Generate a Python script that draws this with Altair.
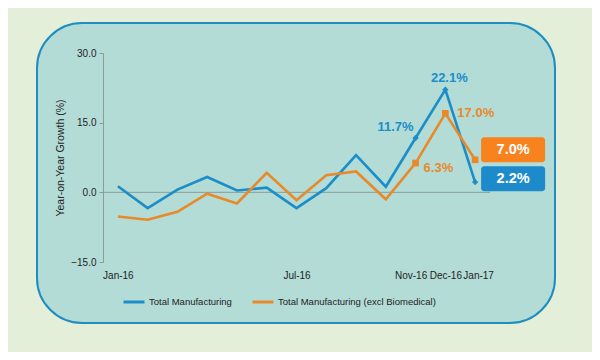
import altair as alt
import pandas as pd

months = ["Jan-16", "Feb-16", "Mar-16", "Apr-16", "May-16", "Jun-16", "Jul-16",
          "Aug-16", "Sep-16", "Oct-16", "Nov-16", "Dec-16", "Jan-17"]
total_mfg = [1.3, -3.4, 0.6, 3.3, 0.4, 1.0, -3.4, 0.9, 8.0, 1.2, 11.7, 22.1, 2.2]
excl_bio = [-5.2, -5.9, -4.2, -0.3, -2.4, 4.2, -1.7, 3.7, 4.5, -1.5, 6.3, 17.0, 7.0]
series_names = ["Total Manufacturing", "Total Manufacturing (excl Biomedical)"]
shown_labels = ["Jan-16", "Jul-16", "Nov-16", "Dec-16", "Jan-17"]
marked_months = ["Nov-16", "Dec-16", "Jan-17"]

BLUE = "#1b8ec8"
ORANGE = "#e8892b"
BOX_ORANGE = "#f8821e"
BOX_BLUE = "#1d8bcb"
FONT = "Liberation Sans"

rows = []
for m, a, b in zip(months, total_mfg, excl_bio):
    rows.append({"month": m, "series": series_names[0], "value": a})
    rows.append({"month": m, "series": series_names[1], "value": b})
df = pd.DataFrame(rows)
df["label"] = df["value"].map(lambda v: f"{v:.1f}%")

xscale = alt.Scale(type="point", domain=months, padding=0.5)
yscale = alt.Scale(domain=[-15, 30])

label_expr = "indexof(" + str(shown_labels).replace("'", '"') + ", datum.value) >= 0 ? datum.value : ''"

X = alt.X("month:O", scale=xscale, sort=months,
          axis=alt.Axis(title=None, labelExpr=label_expr, domain=False, ticks=False,
                        labelAngle=0, labelOverlap=False, labelPadding=8, zindex=2,
                        labelOffset={"condition": [
                            {"test": "datum.value == 'Nov-16'", "value": -5},
                            {"test": "datum.value == 'Jan-17'", "value": 3}],
                            "value": 0},
                        labelFontSize=10, labelColor="#222222", labelFont=FONT))
Y = alt.Y("value:Q", scale=yscale,
          axis=alt.Axis(title="Year-on-Year Growth (%)", values=[-15, 0, 15, 30], format=".1f",
                        grid=False, tickSize=4, tickColor="#8c9c9a", domainColor="#8c9c9a",
                        labelFontSize=10, labelColor="#222222", labelFont=FONT, labelPadding=3,
                        titleFontSize=10.5, titleFontWeight="normal", titleColor="#222222",
                        titleFont=FONT, titlePadding=5, zindex=2))

panel = alt.Chart(pd.DataFrame({"a": [0]})).mark_rect(
    fill="#b3dcd7", stroke="#1f8dc0", strokeWidth=2, cornerRadius=45
).encode(x=alt.value(-66), x2=alt.value(452), y=alt.value(-30), y2=alt.value(270))

zero = alt.Chart(pd.DataFrame({"a": [0]})).mark_rule(color="#8c9c9a", strokeWidth=1).encode(
    y=alt.datum(0, scale=yscale))

lines = alt.Chart(df).mark_line(strokeWidth=2.6).encode(
    x=X, y=Y,
    color=alt.Color("series:N", scale=alt.Scale(domain=series_names, range=[BLUE, ORANGE]),
                    legend=alt.Legend(title=None, orient="none", legendX=19, legendY=237,
                                      direction="horizontal", symbolType="stroke",
                                      symbolSize=441, symbolStrokeWidth=3, labelFontSize=9.5,
                                      labelColor="#222222", labelFont=FONT, labelOffset=3,
                                      labelLimit=300, columnPadding=14)),
    order=alt.Order("series:N"))

marked = df[df["month"].isin(marked_months)]
blue_pts = alt.Chart(marked[marked["series"] == series_names[0]]).mark_point(
    shape="diamond", filled=True, size=40, color=BLUE, opacity=1).encode(x=X, y=Y)
orange_pts = alt.Chart(marked[marked["series"] == series_names[1]]).mark_point(
    shape="square", filled=True, size=45, color=ORANGE, opacity=1).encode(x=X, y=Y)

def pick(series, month):
    return df[(df["series"] == series_names[series]) & (df["month"] == month)]

txt = dict(font=FONT, fontSize=13, fontWeight="bold")
t_nov_b = alt.Chart(pick(0, "Nov-16")).mark_text(align="right", dx=-2, dy=-11, color=BLUE, **txt).encode(x=X, y=Y, text="label:N")
t_dec_b = alt.Chart(pick(0, "Dec-16")).mark_text(align="center", dx=4, dy=-12, color=BLUE, **txt).encode(x=X, y=Y, text="label:N")
t_dec_o = alt.Chart(pick(1, "Dec-16")).mark_text(align="left", dx=12, dy=0, color=ORANGE, **txt).encode(x=X, y=Y, text="label:N")
t_nov_o = alt.Chart(pick(1, "Nov-16")).mark_text(align="left", dx=8, dy=5, color=ORANGE, **txt).encode(x=X, y=Y, text="label:N")

last_o = pick(1, "Jan-17")
last_b = pick(0, "Jan-17")
box_o = alt.Chart(last_o).mark_rect(color=BOX_ORANGE, cornerRadius=3, xOffset=6, x2Offset=70,
                                    yOffset=-22.6, y2Offset=2.4).encode(x=X, x2="month:O", y=Y, y2="value:Q")
box_b = alt.Chart(last_b).mark_rect(color=BOX_BLUE, cornerRadius=3, xOffset=6, x2Offset=70,
                                    yOffset=-15.8, y2Offset=9.2).encode(x=X, x2="month:O", y=Y, y2="value:Q")
btxt = dict(font=FONT, fontSize=14.5, fontWeight="bold", color="white", align="center", baseline="middle")
box_o_t = alt.Chart(last_o).mark_text(dx=38, dy=-10, **btxt).encode(x=X, y=Y, text="label:N")
box_b_t = alt.Chart(last_b).mark_text(dx=38, dy=-3, **btxt).encode(x=X, y=Y, text="label:N")

chart = alt.layer(panel, zero, lines, blue_pts, orange_pts, t_nov_b, t_dec_b, t_dec_o, t_nov_o,
                  box_o, box_b, box_o_t, box_b_t).properties(
    width=387, height=209,
    padding={"left": 95, "top": 45, "right": 102, "bottom": 90},
    autosize=alt.AutoSizeParams(type="none"),
    background="#e4efd9",
).configure_view(stroke=None)

chart.save("out.html", embed_options={"renderer": "svg", "actions": False})
